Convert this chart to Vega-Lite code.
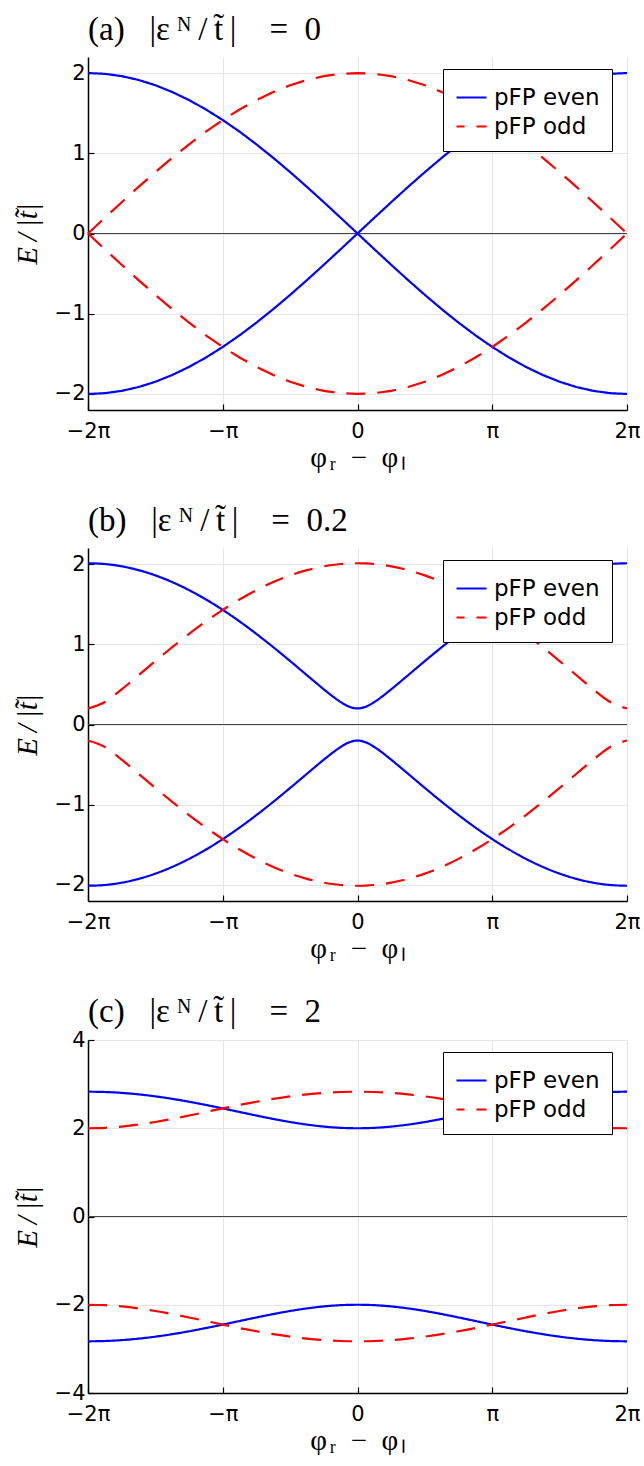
{
  "$schema": "https://vega.github.io/schema/vega-lite/v6.json",
  "background": "white",
  "padding": {"left": 13, "top": 14, "right": 0, "bottom": 0},
  "spacing": 33,
  "config": {
    "view": {"stroke": null},
    "font": "DejaVu Sans",
    "axis": {"labelFont": "DejaVu Sans", "labelFontSize": 21, "labelColor": "#000", "domainColor": "#000", "domainWidth": 1.5, "tickColor": "#000", "tickSize": -6, "tickWidth": 1.2, "gridColor": "#e6e6e6", "gridWidth": 1, "titleFont": "Liberation Serif", "titleFontSize": 29, "titleFontWeight": "normal", "titleColor": "#000", "labelPadding": 8},
    "axisY": {"titleFontStyle": "italic", "titlePadding": 12, "labelPadding": 9},
    "axisX": {"titlePadding": 2, "labelPadding": 16},
    "title": {"font": "Liberation Serif", "fontSize": 33, "fontWeight": "normal", "anchor": "start", "frame": "group", "color": "#000", "offset": 10},
    "legend": {"fillColor": "white", "strokeColor": "black", "padding": 12, "labelFont": "DejaVu Sans", "labelFontSize": 23, "labelColor": "#000", "symbolType": "stroke", "symbolSize": 900, "symbolStrokeWidth": 2.2, "rowPadding": 0, "labelOffset": 6, "symbolDashOffset": 11, "cornerRadius": 0}
  },
  "resolve": {"scale": {"x": "independent", "y": "independent", "color": "independent", "strokeDash": "independent"}, "legend": {"color": "independent", "strokeDash": "independent"}},
  "datasets": {
    "series": [
      {"k": "ep", "s": "pFP even"}, {"k": "em", "s": "pFP even"}, {"k": "op", "s": "pFP odd"}, {"k": "om", "s": "pFP odd"}
    ],
    "d": [
      {"p":"a","x":-2,"ep":2,"em":-2,"op":0,"om":0},
      {"p":"a","x":-1.875,"ep":1.99037,"em":-1.99037,"op":0.19603,"om":-0.19603},
      {"p":"a","x":-1.75,"ep":1.96157,"em":-1.96157,"op":0.39018,"om":-0.39018},
      {"p":"a","x":-1.625,"ep":1.91388,"em":-1.91388,"op":0.58057,"om":-0.58057},
      {"p":"a","x":-1.5,"ep":1.84776,"em":-1.84776,"op":0.76537,"om":-0.76537},
      {"p":"a","x":-1.375,"ep":1.76384,"em":-1.76384,"op":0.94279,"om":-0.94279},
      {"p":"a","x":-1.25,"ep":1.66294,"em":-1.66294,"op":1.11114,"om":-1.11114},
      {"p":"a","x":-1.125,"ep":1.54602,"em":-1.54602,"op":1.26879,"om":-1.26879},
      {"p":"a","x":-1,"ep":1.41421,"em":-1.41421,"op":1.41421,"om":-1.41421},
      {"p":"a","x":-0.875,"ep":1.26879,"em":-1.26879,"op":1.54602,"om":-1.54602},
      {"p":"a","x":-0.75,"ep":1.11114,"em":-1.11114,"op":1.66294,"om":-1.66294},
      {"p":"a","x":-0.625,"ep":0.94279,"em":-0.94279,"op":1.76384,"om":-1.76384},
      {"p":"a","x":-0.5,"ep":0.76537,"em":-0.76537,"op":1.84776,"om":-1.84776},
      {"p":"a","x":-0.375,"ep":0.58057,"em":-0.58057,"op":1.91388,"om":-1.91388},
      {"p":"a","x":-0.25,"ep":0.39018,"em":-0.39018,"op":1.96157,"om":-1.96157},
      {"p":"a","x":-0.125,"ep":0.19603,"em":-0.19603,"op":1.99037,"om":-1.99037},
      {"p":"a","x":0,"ep":0,"em":0,"op":2,"om":-2},
      {"p":"a","x":0.125,"ep":0.19603,"em":-0.19603,"op":1.99037,"om":-1.99037},
      {"p":"a","x":0.25,"ep":0.39018,"em":-0.39018,"op":1.96157,"om":-1.96157},
      {"p":"a","x":0.375,"ep":0.58057,"em":-0.58057,"op":1.91388,"om":-1.91388},
      {"p":"a","x":0.5,"ep":0.76537,"em":-0.76537,"op":1.84776,"om":-1.84776},
      {"p":"a","x":0.625,"ep":0.94279,"em":-0.94279,"op":1.76384,"om":-1.76384},
      {"p":"a","x":0.75,"ep":1.11114,"em":-1.11114,"op":1.66294,"om":-1.66294},
      {"p":"a","x":0.875,"ep":1.26879,"em":-1.26879,"op":1.54602,"om":-1.54602},
      {"p":"a","x":1,"ep":1.41421,"em":-1.41421,"op":1.41421,"om":-1.41421},
      {"p":"a","x":1.125,"ep":1.54602,"em":-1.54602,"op":1.26879,"om":-1.26879},
      {"p":"a","x":1.25,"ep":1.66294,"em":-1.66294,"op":1.11114,"om":-1.11114},
      {"p":"a","x":1.375,"ep":1.76384,"em":-1.76384,"op":0.94279,"om":-0.94279},
      {"p":"a","x":1.5,"ep":1.84776,"em":-1.84776,"op":0.76537,"om":-0.76537},
      {"p":"a","x":1.625,"ep":1.91388,"em":-1.91388,"op":0.58057,"om":-0.58057},
      {"p":"a","x":1.75,"ep":1.96157,"em":-1.96157,"op":0.39018,"om":-0.39018},
      {"p":"a","x":1.875,"ep":1.99037,"em":-1.99037,"op":0.19603,"om":-0.19603},
      {"p":"a","x":2,"ep":2,"em":-2,"op":0,"om":0},

      {"p":"b","x":-2,"ep":2.00998,"em":-2.00998,"op":0.2,"om":-0.2},
      {"p":"b","x":-1.875,"ep":2.00039,"em":-2.00039,"op":0.28005,"om":-0.28005},
      {"p":"b","x":-1.75,"ep":1.97174,"em":-1.97174,"op":0.43845,"om":-0.43845},
      {"p":"b","x":-1.625,"ep":1.9243,"em":-1.9243,"op":0.61405,"om":-0.61405},
      {"p":"b","x":-1.5,"ep":1.85855,"em":-1.85855,"op":0.79107,"om":-0.79107},
      {"p":"b","x":-1.375,"ep":1.77515,"em":-1.77515,"op":0.96377,"om":-0.96377},
      {"p":"b","x":-1.25,"ep":1.67492,"em":-1.67492,"op":1.129,"om":-1.129},
      {"p":"b","x":-1.125,"ep":1.5589,"em":-1.5589,"op":1.28445,"om":-1.28445},
      {"p":"b","x":-1,"ep":1.42829,"em":-1.42829,"op":1.42829,"om":-1.42829},
      {"p":"b","x":-0.875,"ep":1.28445,"em":-1.28445,"op":1.5589,"om":-1.5589},
      {"p":"b","x":-0.75,"ep":1.129,"em":-1.129,"op":1.67492,"om":-1.67492},
      {"p":"b","x":-0.625,"ep":0.96377,"em":-0.96377,"op":1.77515,"om":-1.77515},
      {"p":"b","x":-0.5,"ep":0.79107,"em":-0.79107,"op":1.85855,"om":-1.85855},
      {"p":"b","x":-0.375,"ep":0.61405,"em":-0.61405,"op":1.9243,"om":-1.9243},
      {"p":"b","x":-0.25,"ep":0.43845,"em":-0.43845,"op":1.97174,"om":-1.97174},
      {"p":"b","x":-0.1875,"ep":0.35513,"em":-0.35513,"op":1.98844,"om":-1.98844},
      {"p":"b","x":-0.125,"ep":0.28005,"em":-0.28005,"op":2.00039,"om":-2.00039},
      {"p":"b","x":-0.0625,"ep":0.22278,"em":-0.22278,"op":2.00758,"om":-2.00758},
      {"p":"b","x":0,"ep":0.2,"em":-0.2,"op":2.00998,"om":-2.00998},
      {"p":"b","x":0.0625,"ep":0.22278,"em":-0.22278,"op":2.00758,"om":-2.00758},
      {"p":"b","x":0.125,"ep":0.28005,"em":-0.28005,"op":2.00039,"om":-2.00039},
      {"p":"b","x":0.1875,"ep":0.35513,"em":-0.35513,"op":1.98844,"om":-1.98844},
      {"p":"b","x":0.25,"ep":0.43845,"em":-0.43845,"op":1.97174,"om":-1.97174},
      {"p":"b","x":0.375,"ep":0.61405,"em":-0.61405,"op":1.9243,"om":-1.9243},
      {"p":"b","x":0.5,"ep":0.79107,"em":-0.79107,"op":1.85855,"om":-1.85855},
      {"p":"b","x":0.625,"ep":0.96377,"em":-0.96377,"op":1.77515,"om":-1.77515},
      {"p":"b","x":0.75,"ep":1.129,"em":-1.129,"op":1.67492,"om":-1.67492},
      {"p":"b","x":0.875,"ep":1.28445,"em":-1.28445,"op":1.5589,"om":-1.5589},
      {"p":"b","x":1,"ep":1.42829,"em":-1.42829,"op":1.42829,"om":-1.42829},
      {"p":"b","x":1.125,"ep":1.5589,"em":-1.5589,"op":1.28445,"om":-1.28445},
      {"p":"b","x":1.25,"ep":1.67492,"em":-1.67492,"op":1.129,"om":-1.129},
      {"p":"b","x":1.375,"ep":1.77515,"em":-1.77515,"op":0.96377,"om":-0.96377},
      {"p":"b","x":1.5,"ep":1.85855,"em":-1.85855,"op":0.79107,"om":-0.79107},
      {"p":"b","x":1.625,"ep":1.9243,"em":-1.9243,"op":0.61405,"om":-0.61405},
      {"p":"b","x":1.75,"ep":1.97174,"em":-1.97174,"op":0.43845,"om":-0.43845},
      {"p":"b","x":1.875,"ep":2.00039,"em":-2.00039,"op":0.28005,"om":-0.28005},
      {"p":"b","x":2,"ep":2.00998,"em":-2.00998,"op":0.2,"om":-0.2},

      {"p":"c","x":-2,"ep":2.82843,"em":-2.82843,"op":2,"om":-2},
      {"p":"c","x":-1.875,"ep":2.82163,"em":-2.82163,"op":2.00958,"om":-2.00958},
      {"p":"c","x":-1.75,"ep":2.80139,"em":-2.80139,"op":2.0377,"om":-2.0377},
      {"p":"c","x":-1.625,"ep":2.7682,"em":-2.7682,"op":2.08256,"om":-2.08256},
      {"p":"c","x":-1.5,"ep":2.72291,"em":-2.72291,"op":2.14144,"om":-2.14144},
      {"p":"c","x":-1.375,"ep":2.66667,"em":-2.66667,"op":2.21108,"om":-2.21108},
      {"p":"c","x":-1.25,"ep":2.60103,"em":-2.60103,"op":2.28793,"om":-2.28793},
      {"p":"c","x":-1.125,"ep":2.52788,"em":-2.52788,"op":2.36851,"om":-2.36851},
      {"p":"c","x":-1,"ep":2.44949,"em":-2.44949,"op":2.44949,"om":-2.44949},
      {"p":"c","x":-0.875,"ep":2.36851,"em":-2.36851,"op":2.52788,"om":-2.52788},
      {"p":"c","x":-0.75,"ep":2.28793,"em":-2.28793,"op":2.60103,"om":-2.60103},
      {"p":"c","x":-0.625,"ep":2.21108,"em":-2.21108,"op":2.66667,"om":-2.66667},
      {"p":"c","x":-0.5,"ep":2.14144,"em":-2.14144,"op":2.72291,"om":-2.72291},
      {"p":"c","x":-0.375,"ep":2.08256,"em":-2.08256,"op":2.7682,"om":-2.7682},
      {"p":"c","x":-0.25,"ep":2.0377,"em":-2.0377,"op":2.80139,"om":-2.80139},
      {"p":"c","x":-0.125,"ep":2.00958,"em":-2.00958,"op":2.82163,"om":-2.82163},
      {"p":"c","x":0,"ep":2,"em":-2,"op":2.82843,"om":-2.82843},
      {"p":"c","x":0.125,"ep":2.00958,"em":-2.00958,"op":2.82163,"om":-2.82163},
      {"p":"c","x":0.25,"ep":2.0377,"em":-2.0377,"op":2.80139,"om":-2.80139},
      {"p":"c","x":0.375,"ep":2.08256,"em":-2.08256,"op":2.7682,"om":-2.7682},
      {"p":"c","x":0.5,"ep":2.14144,"em":-2.14144,"op":2.72291,"om":-2.72291},
      {"p":"c","x":0.625,"ep":2.21108,"em":-2.21108,"op":2.66667,"om":-2.66667},
      {"p":"c","x":0.75,"ep":2.28793,"em":-2.28793,"op":2.60103,"om":-2.60103},
      {"p":"c","x":0.875,"ep":2.36851,"em":-2.36851,"op":2.52788,"om":-2.52788},
      {"p":"c","x":1,"ep":2.44949,"em":-2.44949,"op":2.44949,"om":-2.44949},
      {"p":"c","x":1.125,"ep":2.52788,"em":-2.52788,"op":2.36851,"om":-2.36851},
      {"p":"c","x":1.25,"ep":2.60103,"em":-2.60103,"op":2.28793,"om":-2.28793},
      {"p":"c","x":1.375,"ep":2.66667,"em":-2.66667,"op":2.21108,"om":-2.21108},
      {"p":"c","x":1.5,"ep":2.72291,"em":-2.72291,"op":2.14144,"om":-2.14144},
      {"p":"c","x":1.625,"ep":2.7682,"em":-2.7682,"op":2.08256,"om":-2.08256},
      {"p":"c","x":1.75,"ep":2.80139,"em":-2.80139,"op":2.0377,"om":-2.0377},
      {"p":"c","x":1.875,"ep":2.82163,"em":-2.82163,"op":2.00958,"om":-2.00958},
      {"p":"c","x":2,"ep":2.82843,"em":-2.82843,"op":2,"om":-2}
    ]
  },
  "vconcat": [
    {
      "width": 539, "height": 353,
      "title": {"text": "(a)\u00a0\u00a0\u00a0|ε\u2009ᴺ\u2009/\u2009t̃\u2009|\u00a0\u00a0\u00a0\u00a0=\u00a0\u00a00"},
      "layer": [
        {"data": {"values": [{"z": 0}]}, "mark": {"type": "rule", "color": "#444444", "strokeWidth": 1}, "encoding": {"y": {"field": "z", "type": "quantitative", "title": "E\u2009/\u2009|t̃|", "scale": {"domain": [-2.2, 2.2], "nice": false, "zero": false}}}},
        {"data": {"name": "d"},
         "transform": [{"filter": "datum.p === 'a'"}, {"fold": ["ep", "em", "op", "om"], "as": ["k", "y"]}, {"lookup": "k", "from": {"data": {"name": "series"}, "key": "k", "fields": ["s"]}}],
         "mark": {"type": "line", "strokeWidth": 2.2},
         "encoding": {
           "x": {"field": "x", "type": "quantitative", "scale": {"domain": [-2, 2], "nice": false, "zero": false}, "axis": {"values": [-2, -1, 0, 1, 2], "labelFlush": false, "labelExpr": "datum.value == -2 ? '−2π' : datum.value == -1 ? '−π' : datum.value == 0 ? '0' : datum.value == 1 ? 'π' : '2π'", "title": "φ\u200aᵣ\u00a0\u00a0−\u00a0\u00a0φ\u200aₗ"}},
           "y": {"field": "y", "type": "quantitative", "scale": {"domain": [-2.2, 2.2], "nice": false, "zero": false}, "axis": {"values": [-2, -1, 0, 1, 2], "format": "~g"}, "title": "E\u2009/\u2009|t̃|"},
           "detail": {"field": "k"},
           "color": {"field": "s", "type": "nominal", "scale": {"domain": ["pFP even", "pFP odd"], "range": ["#0000ff", "#ff0000"]}, "legend": {"title": null, "orient": "none", "legendX": 355, "legendY": 12}},
           "strokeDash": {"field": "s", "type": "nominal", "scale": {"domain": ["pFP even", "pFP odd"], "range": [[1, 0], [19, 12]]}, "legend": {"title": null, "orient": "none", "legendX": 355, "legendY": 12}}
         }}
      ]
    },
    {
      "width": 539, "height": 353,
      "title": {"text": "(b)\u00a0\u00a0\u00a0|ε\u2009ᴺ\u2009/\u2009t̃\u2009|\u00a0\u00a0\u00a0\u00a0=\u00a0\u00a00.2"},
      "layer": [
        {"data": {"values": [{"z": 0}]}, "mark": {"type": "rule", "color": "#444444", "strokeWidth": 1}, "encoding": {"y": {"field": "z", "type": "quantitative", "title": "E\u2009/\u2009|t̃|", "scale": {"domain": [-2.2, 2.2], "nice": false, "zero": false}}}},
        {"data": {"name": "d"},
         "transform": [{"filter": "datum.p === 'b'"}, {"fold": ["ep", "em", "op", "om"], "as": ["k", "y"]}, {"lookup": "k", "from": {"data": {"name": "series"}, "key": "k", "fields": ["s"]}}],
         "mark": {"type": "line", "strokeWidth": 2.2, "interpolate": "monotone"},
         "encoding": {
           "x": {"field": "x", "type": "quantitative", "scale": {"domain": [-2, 2], "nice": false, "zero": false}, "axis": {"values": [-2, -1, 0, 1, 2], "labelFlush": false, "labelExpr": "datum.value == -2 ? '−2π' : datum.value == -1 ? '−π' : datum.value == 0 ? '0' : datum.value == 1 ? 'π' : '2π'", "title": "φ\u200aᵣ\u00a0\u00a0−\u00a0\u00a0φ\u200aₗ"}},
           "y": {"field": "y", "type": "quantitative", "scale": {"domain": [-2.2, 2.2], "nice": false, "zero": false}, "axis": {"values": [-2, -1, 0, 1, 2], "format": "~g"}, "title": "E\u2009/\u2009|t̃|"},
           "detail": {"field": "k"},
           "color": {"field": "s", "type": "nominal", "scale": {"domain": ["pFP even", "pFP odd"], "range": ["#0000ff", "#ff0000"]}, "legend": {"title": null, "orient": "none", "legendX": 355, "legendY": 12}},
           "strokeDash": {"field": "s", "type": "nominal", "scale": {"domain": ["pFP even", "pFP odd"], "range": [[1, 0], [19, 12]]}, "legend": {"title": null, "orient": "none", "legendX": 355, "legendY": 12}}
         }}
      ]
    },
    {
      "width": 539, "height": 353,
      "title": {"text": "(c)\u00a0\u00a0\u00a0|ε\u2009ᴺ\u2009/\u2009t̃\u2009|\u00a0\u00a0\u00a0\u00a0=\u00a0\u00a02", "offset": 0},
      "layer": [
        {"data": {"values": [{"z": 0}]}, "mark": {"type": "rule", "color": "#444444", "strokeWidth": 1}, "encoding": {"y": {"field": "z", "type": "quantitative", "title": "E\u2009/\u2009|t̃|", "scale": {"domain": [-4, 4], "nice": false, "zero": false}}}},
        {"data": {"name": "d"},
         "transform": [{"filter": "datum.p === 'c'"}, {"fold": ["ep", "em", "op", "om"], "as": ["k", "y"]}, {"lookup": "k", "from": {"data": {"name": "series"}, "key": "k", "fields": ["s"]}}],
         "mark": {"type": "line", "strokeWidth": 2.2, "interpolate": "monotone"},
         "encoding": {
           "x": {"field": "x", "type": "quantitative", "scale": {"domain": [-2, 2], "nice": false, "zero": false}, "axis": {"values": [-2, -1, 0, 1, 2], "labelFlush": false, "labelExpr": "datum.value == -2 ? '−2π' : datum.value == -1 ? '−π' : datum.value == 0 ? '0' : datum.value == 1 ? 'π' : '2π'", "title": "φ\u200aᵣ\u00a0\u00a0−\u00a0\u00a0φ\u200aₗ"}},
           "y": {"field": "y", "type": "quantitative", "scale": {"domain": [-4, 4], "nice": false, "zero": false}, "axis": {"values": [-4, -2, 0, 2, 4], "format": "~g"}, "title": "E\u2009/\u2009|t̃|"},
           "detail": {"field": "k"},
           "color": {"field": "s", "type": "nominal", "scale": {"domain": ["pFP even", "pFP odd"], "range": ["#0000ff", "#ff0000"]}, "legend": {"title": null, "orient": "none", "legendX": 355, "legendY": 12}},
           "strokeDash": {"field": "s", "type": "nominal", "scale": {"domain": ["pFP even", "pFP odd"], "range": [[1, 0], [19, 12]]}, "legend": {"title": null, "orient": "none", "legendX": 355, "legendY": 12}}
         }}
      ]
    }
  ]
}
